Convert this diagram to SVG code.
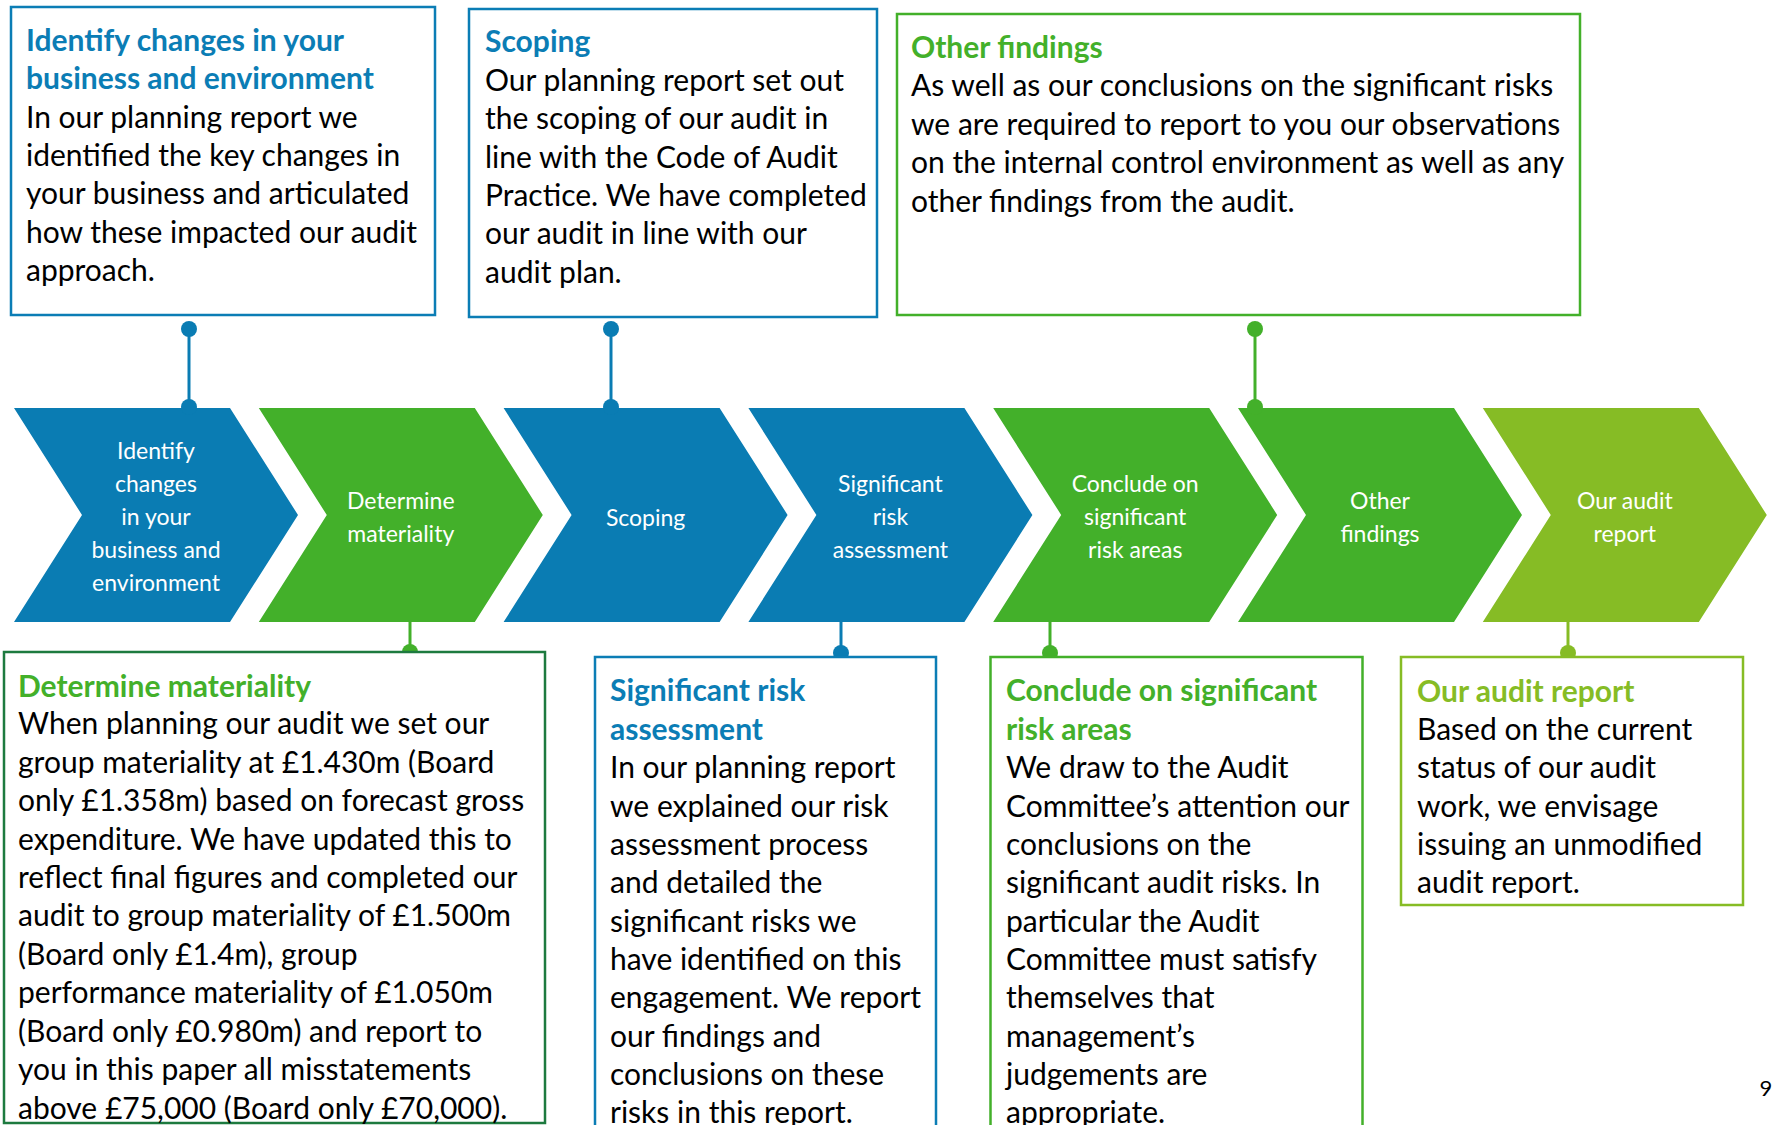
<svg xmlns="http://www.w3.org/2000/svg" width="1773" height="1125" viewBox="0 0 1773 1125">
  <style>
    .box { fill: #ffffff; stroke-width: 2.5; }
    .b-blue { stroke: #0B7DB5; }
    .b-green { stroke: #43B02A; }
    .b-dark { stroke: #1D7A3F; }
    .b-lime { stroke: #86BC25; }
    .title { font-family: Lato, "Liberation Sans", sans-serif; font-size: 30px; font-weight: 700; }
    .body { font-family: Lato, "Liberation Sans", sans-serif; font-size: 30px; fill: #000000; }
    .t-blue { fill: #0B7DB5; }
    .t-green { fill: #43B02A; }
    .t-lime { fill: #86BC25; }
    .chev-blue { fill: #0A7CB3; }
    .chev-green { fill: #43B02A; }
    .chev-lime { fill: #86BC25; }
    .label { font-family: Lato, "Liberation Sans", sans-serif; font-size: 23px; fill: #ffffff; text-anchor: middle; }
    .wire { stroke-width: 3; fill: none; }
    .w-blue { stroke: #0A7CB3; }
    .w-green { stroke: #43B02A; }
    .w-lime { stroke: #86BC25; }
    .d-blue { fill: #0A7CB3; }
    .d-green { fill: #43B02A; }
    .d-lime { fill: #86BC25; }
    .page { font-family: Lato, "Liberation Sans", sans-serif; font-size: 22px; fill: #000000; text-anchor: middle; }
  </style>
  <defs>
    <path id="chevron" d="M0,0 H216 L284,107 L216,214 H0 L68,107 Z"/>
  </defs>

  <rect width="1773" height="1125" fill="#ffffff"/>

  <!-- process chevrons -->
  <g id="step-identify">
    <use href="#chevron" class="chev-blue" transform="translate(14,408)"/>
    <text class="label"><tspan x="156" y="459">Identify</tspan><tspan x="156" y="492">changes</tspan><tspan x="156" y="525">in your</tspan><tspan x="156" y="558">business and</tspan><tspan x="156" y="591">environment</tspan></text>
  </g>
  <g id="step-materiality">
    <use href="#chevron" class="chev-green" transform="translate(258.8,408)"/>
    <text class="label"><tspan x="400.8" y="509">Determine</tspan><tspan x="400.8" y="542">materiality</tspan></text>
  </g>
  <g id="step-scoping">
    <use href="#chevron" class="chev-blue" transform="translate(503.6,408)"/>
    <text class="label" x="645.6" y="526">Scoping</text>
  </g>
  <g id="step-risk">
    <use href="#chevron" class="chev-blue" transform="translate(748.4,408)"/>
    <text class="label"><tspan x="890.4" y="492">Significant</tspan><tspan x="890.4" y="525">risk</tspan><tspan x="890.4" y="558">assessment</tspan></text>
  </g>
  <g id="step-conclude">
    <use href="#chevron" class="chev-green" transform="translate(993.2,408)"/>
    <text class="label"><tspan x="1135.2" y="492">Conclude on</tspan><tspan x="1135.2" y="525">significant</tspan><tspan x="1135.2" y="558">risk areas</tspan></text>
  </g>
  <g id="step-other">
    <use href="#chevron" class="chev-green" transform="translate(1238,408)"/>
    <text class="label"><tspan x="1380" y="509">Other</tspan><tspan x="1380" y="542">findings</tspan></text>
  </g>
  <g id="step-report">
    <use href="#chevron" class="chev-lime" transform="translate(1482.8,408)"/>
    <text class="label"><tspan x="1624.8" y="509">Our audit</tspan><tspan x="1624.8" y="542">report</tspan></text>
  </g>

  <!-- connectors between callouts and steps -->
  <g id="connectors">
    <line class="wire w-blue" x1="189" y1="329" x2="189" y2="407"/>
    <circle class="d-blue" cx="189" cy="329" r="8"/>
    <circle class="d-blue" cx="189" cy="407" r="8"/>

    <line class="wire w-blue" x1="611" y1="329" x2="611" y2="407"/>
    <circle class="d-blue" cx="611" cy="329" r="8"/>
    <circle class="d-blue" cx="611" cy="407" r="8"/>

    <line class="wire w-green" x1="1255" y1="329" x2="1255" y2="407"/>
    <circle class="d-green" cx="1255" cy="329" r="8"/>
    <circle class="d-green" cx="1255" cy="407" r="8"/>

    <line class="wire w-green" x1="410" y1="620" x2="410" y2="652"/>
    <circle class="d-green" cx="410" cy="652" r="8"/>

    <line class="wire w-blue" x1="841" y1="620" x2="841" y2="653"/>
    <circle class="d-blue" cx="841" cy="653" r="8"/>

    <line class="wire w-green" x1="1050" y1="620" x2="1050" y2="653"/>
    <circle class="d-green" cx="1050" cy="653" r="8"/>

    <line class="wire w-lime" x1="1568" y1="620" x2="1568" y2="653"/>
    <circle class="d-lime" cx="1568" cy="653" r="8"/>
  </g>

  <!-- callouts above the steps -->
  <g id="note-identify">
    <rect class="box b-blue" x="11" y="7" width="424" height="308"/>
    <text class="title t-blue"><tspan x="26" y="51">Identify changes in your</tspan><tspan x="26" y="89">business and environment</tspan></text>
    <text class="body"><tspan x="26" y="127.5">In our planning report we</tspan><tspan x="26" y="166">identified the key changes in</tspan><tspan x="26" y="204">your business and articulated</tspan><tspan x="26" y="242.5">how these impacted our audit</tspan><tspan x="26" y="281">approach.</tspan></text>
  </g>
  <g id="note-scoping">
    <rect class="box b-blue" x="469" y="9" width="408" height="308"/>
    <text class="title t-blue" x="485" y="52">Scoping</text>
    <text class="body"><tspan x="485" y="91">Our planning report set out</tspan><tspan x="485" y="129">the scoping of our audit in</tspan><tspan x="485" y="167.5">line with the Code of Audit</tspan><tspan x="485" y="206">Practice. We have completed</tspan><tspan x="485" y="244">our audit in line with our</tspan><tspan x="485" y="282.5">audit plan.</tspan></text>
  </g>
  <g id="note-other">
    <rect class="box b-green" x="897" y="14" width="683" height="301"/>
    <text class="title t-green" x="911" y="58">Other findings</text>
    <text class="body"><tspan x="911" y="96">As well as our conclusions on the significant risks</tspan><tspan x="911" y="134.5">we are required to report to you our observations</tspan><tspan x="911" y="173">on the internal control environment as well as any</tspan><tspan x="911" y="211.5">other findings from the audit.</tspan></text>
  </g>

  <!-- callouts below the steps -->
  <g id="note-materiality">
    <rect class="box b-dark" x="4" y="652" width="541" height="471"/>
    <text class="title t-green" x="18" y="697">Determine materiality</text>
    <text class="body"><tspan x="18" y="734">When planning our audit we set our</tspan><tspan x="18" y="772.5">group materiality at £1.430m (Board</tspan><tspan x="18" y="811">only £1.358m) based on forecast gross</tspan><tspan x="18" y="849.5">expenditure. We have updated this to</tspan><tspan x="18" y="888">reflect final figures and completed our</tspan><tspan x="18" y="926">audit to group materiality of £1.500m</tspan><tspan x="18" y="964.5">(Board only £1.4m), group</tspan><tspan x="18" y="1003">performance materiality of £1.050m</tspan><tspan x="18" y="1041.5">(Board only £0.980m) and report to</tspan><tspan x="18" y="1080">you in this paper all misstatements</tspan><tspan x="18" y="1118.5">above £75,000 (Board only £70,000).</tspan></text>
  </g>
  <g id="note-risk">
    <rect class="box b-blue" x="595" y="657" width="341" height="520"/>
    <text class="title t-blue"><tspan x="610" y="701">Significant risk</tspan><tspan x="610" y="740">assessment</tspan></text>
    <text class="body"><tspan x="610" y="778">In our planning report</tspan><tspan x="610" y="816.5">we explained our risk</tspan><tspan x="610" y="855">assessment process</tspan><tspan x="610" y="893">and detailed the</tspan><tspan x="610" y="931.5">significant risks we</tspan><tspan x="610" y="970">have identified on this</tspan><tspan x="610" y="1008">engagement. We report</tspan><tspan x="610" y="1046.5">our findings and</tspan><tspan x="610" y="1085">conclusions on these</tspan><tspan x="610" y="1123">risks in this report.</tspan></text>
  </g>
  <g id="note-conclude">
    <rect class="box b-green" x="990.5" y="657" width="372" height="520"/>
    <text class="title t-green"><tspan x="1006" y="701">Conclude on significant</tspan><tspan x="1006" y="740">risk areas</tspan></text>
    <text class="body"><tspan x="1006" y="778">We draw to the Audit</tspan><tspan x="1006" y="816.5">Committee’s attention our</tspan><tspan x="1006" y="855">conclusions on the</tspan><tspan x="1006" y="893">significant audit risks. In</tspan><tspan x="1006" y="931.5">particular the Audit</tspan><tspan x="1006" y="970">Committee must satisfy</tspan><tspan x="1006" y="1008">themselves that</tspan><tspan x="1006" y="1046.5">management’s</tspan><tspan x="1006" y="1085">judgements are</tspan><tspan x="1006" y="1123">appropriate.</tspan></text>
  </g>
  <g id="note-report">
    <rect class="box b-lime" x="1401" y="657" width="342" height="248"/>
    <text class="title t-lime" x="1417" y="702">Our audit report</text>
    <text class="body"><tspan x="1417" y="740">Based on the current</tspan><tspan x="1417" y="778">status of our audit</tspan><tspan x="1417" y="817">work, we envisage</tspan><tspan x="1417" y="855">issuing an unmodified</tspan><tspan x="1417" y="893">audit report.</tspan></text>
  </g>

  <text class="page" x="1766" y="1096">9</text>
</svg>
